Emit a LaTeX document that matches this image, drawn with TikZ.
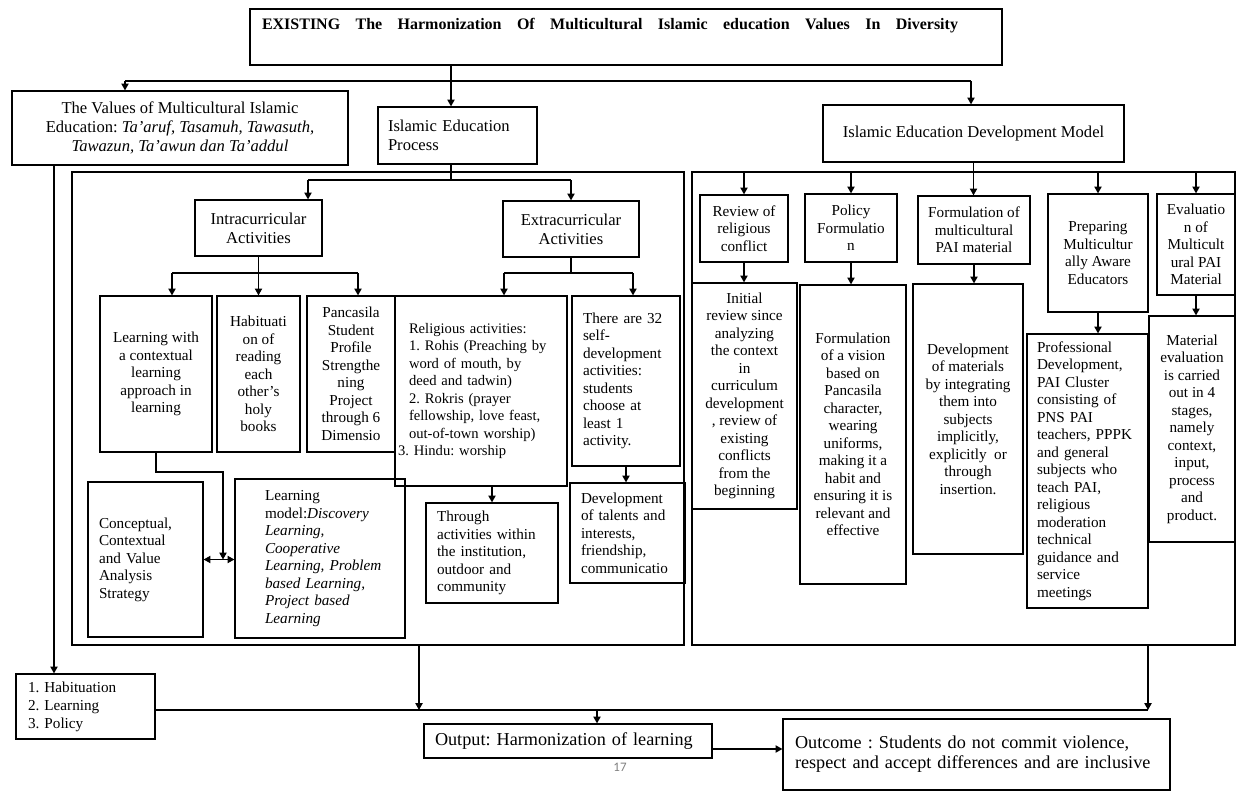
\documentclass[tikz,border=0pt]{standalone}
\usepackage{fontspec}
\setmainfont{Liberation Serif}
\newfontfamily\pgfont{Carlito}
\usepackage{tikz}
\usetikzlibrary{arrows.meta,calc}
\frenchspacing

\begin{document}
\begin{tikzpicture}[x=0.5pt,y=-0.5pt,
  box/.style={draw,line width=0.6pt,inner sep=0pt,align=center,font=\fontsize{7.6}{8.75}\selectfont},
  head/.style={box,font=\fontsize{8.3}{9.6}\selectfont},
  dims/.style 2 args={minimum width=#1,minimum height=#2},
  wrap/.style={draw,line width=0.6pt,inner sep=0pt},
  link/.style={line width=0.6pt},
  arr/.style={line width=0.6pt,-{Triangle[width=3.6pt,length=3.4pt]}},
  dbl/.style={line width=0.6pt,{Triangle[width=3.6pt,length=3.4pt]}-{Triangle[width=3.6pt,length=3.4pt]}}]
\useasboundingbox (0,0) rectangle (1236,792);
\node[wrap,dims={306pt}{236.5pt}] (lbox) at (378,408.5) {};
\node[wrap,dims={271.5pt}{236.5pt}] (rbox) at (963.5,408.5) {};
\node[box,dims={376pt}{28pt},font=\fontsize{8}{9.6}\selectfont\bfseries,text height=6pt,text depth=13pt] (title) at (626,37) {\makebox[348pt][s]{EXISTING The Harmonization Of Multicultural Islamic education Values In Diversity}\kern16pt};
\node[head,dims={168pt}{37pt}] (vals) at (180,128) {The Values of Multicultural Islamic\\ Education: \textit{Ta’aruf, Tasamuh, Tawasuth,}\\ \textit{Tawazun, Ta’awun dan Ta’addul}};
\node[head,dims={79.5pt}{28.5pt},align=left,text width=69.5pt,inner xsep=5pt] (iep) at (457.5,135.5) {Islamic Education\\ Process};
\node[head,dims={150.5pt}{28.5pt}] (iedm) at (973.5,133.5) {Islamic Education Development Model};
\node[head,dims={63.5pt}{28pt}] (intra) at (258.5,228) {Intracurricular\\ Activities};
\node[head,dims={68pt}{28pt}] (extra) at (571,229) {Extracurricular\\ Activities};
\node[box,dims={56pt}{78pt}] (lwith) at (156,374) {Learning with\\ a contextual\\ learning\\ approach in\\ learning};
\node[box,dims={41.5pt}{78pt}] (habit) at (258.5,374) {Habituati\\ on of\\ reading\\ each\\ other’s\\ holy\\ books};
\node[box,dims={44pt}{78pt}] (panc) at (351,374) {Pancasila\\ Student\\ Profile\\ Strengthe\\ ning\\ Project\\ through 6\\ Dimensio};
\node[box,dims={86pt}{95pt},align=left,text width=72pt,inner xsep=7pt,font=\fontsize{7.3}{8.75}\selectfont] (relig) at (481,391) {Religious activities:\\ 1. Rohis (Preaching by\\ word of mouth, by\\ deed and tadwin)\\ 2. Rokris (prayer\\ fellowship, love feast,\\ out-of-town worship)\\ \hspace*{-5.5pt}3. Hindu: worship};
\node[box,dims={54pt}{85pt},align=left,text width=43pt,inner xsep=5.5pt] (there) at (626,381) {There are 32\\ self-\\ development\\ activities:\\ students\\ choose at\\ least 1\\ activity.};
\node[box,dims={66pt}{50pt},align=left,text width=55pt,inner xsep=5.5pt] (through) at (492,553) {Through\\ activities within\\ the institution,\\ outdoor and\\ community};
\node[box,dims={57.5pt}{50pt},align=left,text width=46.5pt,inner xsep=5.5pt] (develop) at (627.5,533) {Development\\ of talents and\\ interests,\\ friendship,\\ communicatio};
\node[box,dims={57.5pt}{77.5pt},align=left,text width=46.5pt,inner xsep=5.5pt] (concept) at (145.5,559.5) {Conceptual,\\ Contextual\\ and Value\\ Analysis\\ Strategy};
\node[box,dims={85pt}{79.5pt},align=left,text width=55pt,inner xsep=15pt] (model) at (320,558.5) {Learning\\ model:\textit{Discovery}\\ \textit{Learning,}\\ \textit{Cooperative}\\ \mbox{\textit{Learning, Problem}}\\ \mbox{\textit{based Learning,}}\\ \mbox{\textit{Project based}}\\ \textit{Learning}};
\node[box,dims={44pt}{33.5pt}] (review) at (744,228.5) {Review of\\ religious\\ conflict};
\node[box,dims={46pt}{34pt}] (policy) at (851,228) {Policy\\ Formulatio\\ n};
\node[box,dims={56pt}{34pt}] (form) at (974,230) {Formulation of\\ multicultural\\ PAI material};
\node[box,dims={50pt}{59pt}] (prep) at (1098,253) {Preparing\\ Multicultur\\ ally Aware\\ Educators};
\node[box,dims={39pt}{50.5pt}] (eval) at (1196,244.5) {Evaluatio\\ n of\\ Multicult\\ ural PAI\\ Material};
\node[box,dims={52.5pt}{113pt}] (initial) at (744.5,396) {Initial\\ review since\\ analyzing\\ the context\\ in\\ curriculum\\ development\\ , review of\\ existing\\ conflicts\\ from the\\ beginning};
\node[box,dims={53pt}{149.5pt}] (vision) at (853,434.5) {Formulation\\ of a vision\\ based on\\ Pancasila\\ character,\\ wearing\\ uniforms,\\ making it a\\ habit and\\ ensuring it is\\ relevant and\\ effective};
\node[box,dims={55pt}{135pt}] (devmat) at (968,419) {Development\\ of materials\\ by integrating\\ them into\\ subjects\\ implicitly,\\ explicitly\ \ or\\ through\\ insertion.};
\node[box,dims={60.5pt}{137pt},align=left,text width=50.5pt,inner xsep=5pt] (prof) at (1087.5,471) {Professional\\ Development,\\ PAI Cluster\\ consisting of\\ PNS PAI\\ teachers, PPPK\\ and general\\ subjects who\\ teach PAI,\\ religious\\ moderation\\ technical\\ guidance and\\ service\\ meetings};
\node[box,dims={43pt}{113pt}] (mat) at (1192,429) {Material\\ evaluation\\ is carried\\ out in 4\\ stages,\\ namely\\ context,\\ input,\\ process\\ and\\ product.};
\node[box,dims={69.5pt}{32.5pt},align=left,text width=57.5pt,inner xsep=6pt,font=\fontsize{7.6}{9}\selectfont] (hab) at (85.5,706.5) {1. Habituation\\ 2. Learning\\ 3. Policy};
\node[box,dims={144pt}{17pt},align=left,text width=133pt,inner xsep=5.5pt,font=\fontsize{9.1}{10}\selectfont] (out) at (568,741) {Output: Harmonization of learning};
\node[box,dims={193.5pt}{35.5pt},align=left,text width=181.5pt,inner xsep=6pt,font=\fontsize{9.1}{10}\selectfont] (outc) at (976.5,754.5) {Outcome : Students do not commit violence,\\ respect and accept differences and are inclusive};
\node[font=\pgfont\fontsize{6.5}{7.5}\selectfont,text=black!50,inner sep=0pt] (pgno) at (620,767) {17};
\coordinate (bL) at (125,81);
\coordinate (bM) at (451,81);
\coordinate (bR) at (971,81);
\draw[link] (title.south -| bM) -- (bM);
\draw[link] (bL) -- (bR);
\draw[arr] (bL) -- (bL |- vals.north);
\draw[arr] (bM) -- (bM |- iep.north);
\draw[arr] (bR) -- (bR |- iedm.north);
\coordinate (cL) at (308,180);
\draw[link] (iep.south -| bM) -- (bM |- cL);
\draw[link] (cL) -- (cL -| extra.north);
\draw[arr] (cL) -- (cL |- intra.north);
\draw[arr] (cL -| extra.north) -- (extra.north);
\coordinate (dL) at (172,273);
\coordinate (dR) at (358,273);
\draw[link] (intra.south) -- (intra.south |- dL);
\draw[link] (dL) -- (dR);
\draw[arr] (dL) -- (dL |- lwith.north);
\draw[arr] (intra.south |- dL) -- (habit.north -| intra.south);
\draw[arr] (dR) -- (dR |- panc.north);
\coordinate (eL) at (504,273);
\coordinate (eR) at (633,273);
\draw[link] (extra.south) -- (extra.south |- eL);
\draw[link] (eL) -- (eR);
\draw[arr] (eL) -- (eL |- relig.north);
\draw[arr] (eR) -- (eR |- there.north);
\draw[arr] (relig.south -| through.north) -- (through.north);
\draw[arr] (there.south) -- (there.south |- develop.north);
\coordinate (kink) at (223,472);
\draw[arr] (lwith.south) |- (kink) -- (kink |- concept.east);
\draw[dbl] (concept.east) -- (concept.east -| model.west);
\draw[arr] (review.north |- rbox.north) -- (review.north);
\draw[arr] (policy.north |- rbox.north) -- (policy.north);
\draw[arr] (iedm.south) -- (iedm.south |- form.north);
\draw[arr] (prep.north |- rbox.north) -- (prep.north);
\draw[arr] (eval.north |- rbox.north) -- (eval.north);
\draw[arr] (review.south) -- (review.south |- initial.north);
\draw[arr] (policy.south) -- (policy.south |- vision.north);
\draw[arr] (form.south) -- (form.south |- devmat.north);
\draw[arr] (prep.south) -- (prep.south |- prof.north);
\draw[arr] (eval.south) -- (eval.south |- mat.north);
\coordinate (vx) at (54,0);
\draw[arr] (vals.south -| vx) -- (hab.north -| vx);
\coordinate (fL) at (419,710);
\coordinate (fM) at (597,710);
\coordinate (fR) at (1148,710);
\draw[link] (hab.east |- fL) -- (fR);
\draw[arr] (lbox.south -| fL) -- (fL);
\draw[arr] (rbox.south -| fR) -- (fR);
\draw[arr] (fM) -- (fM |- out.north);
\draw[arr] ([yshift=-4pt]out.east) -- ([yshift=-4pt]out.east -| outc.west);
\end{tikzpicture}
\end{document}
